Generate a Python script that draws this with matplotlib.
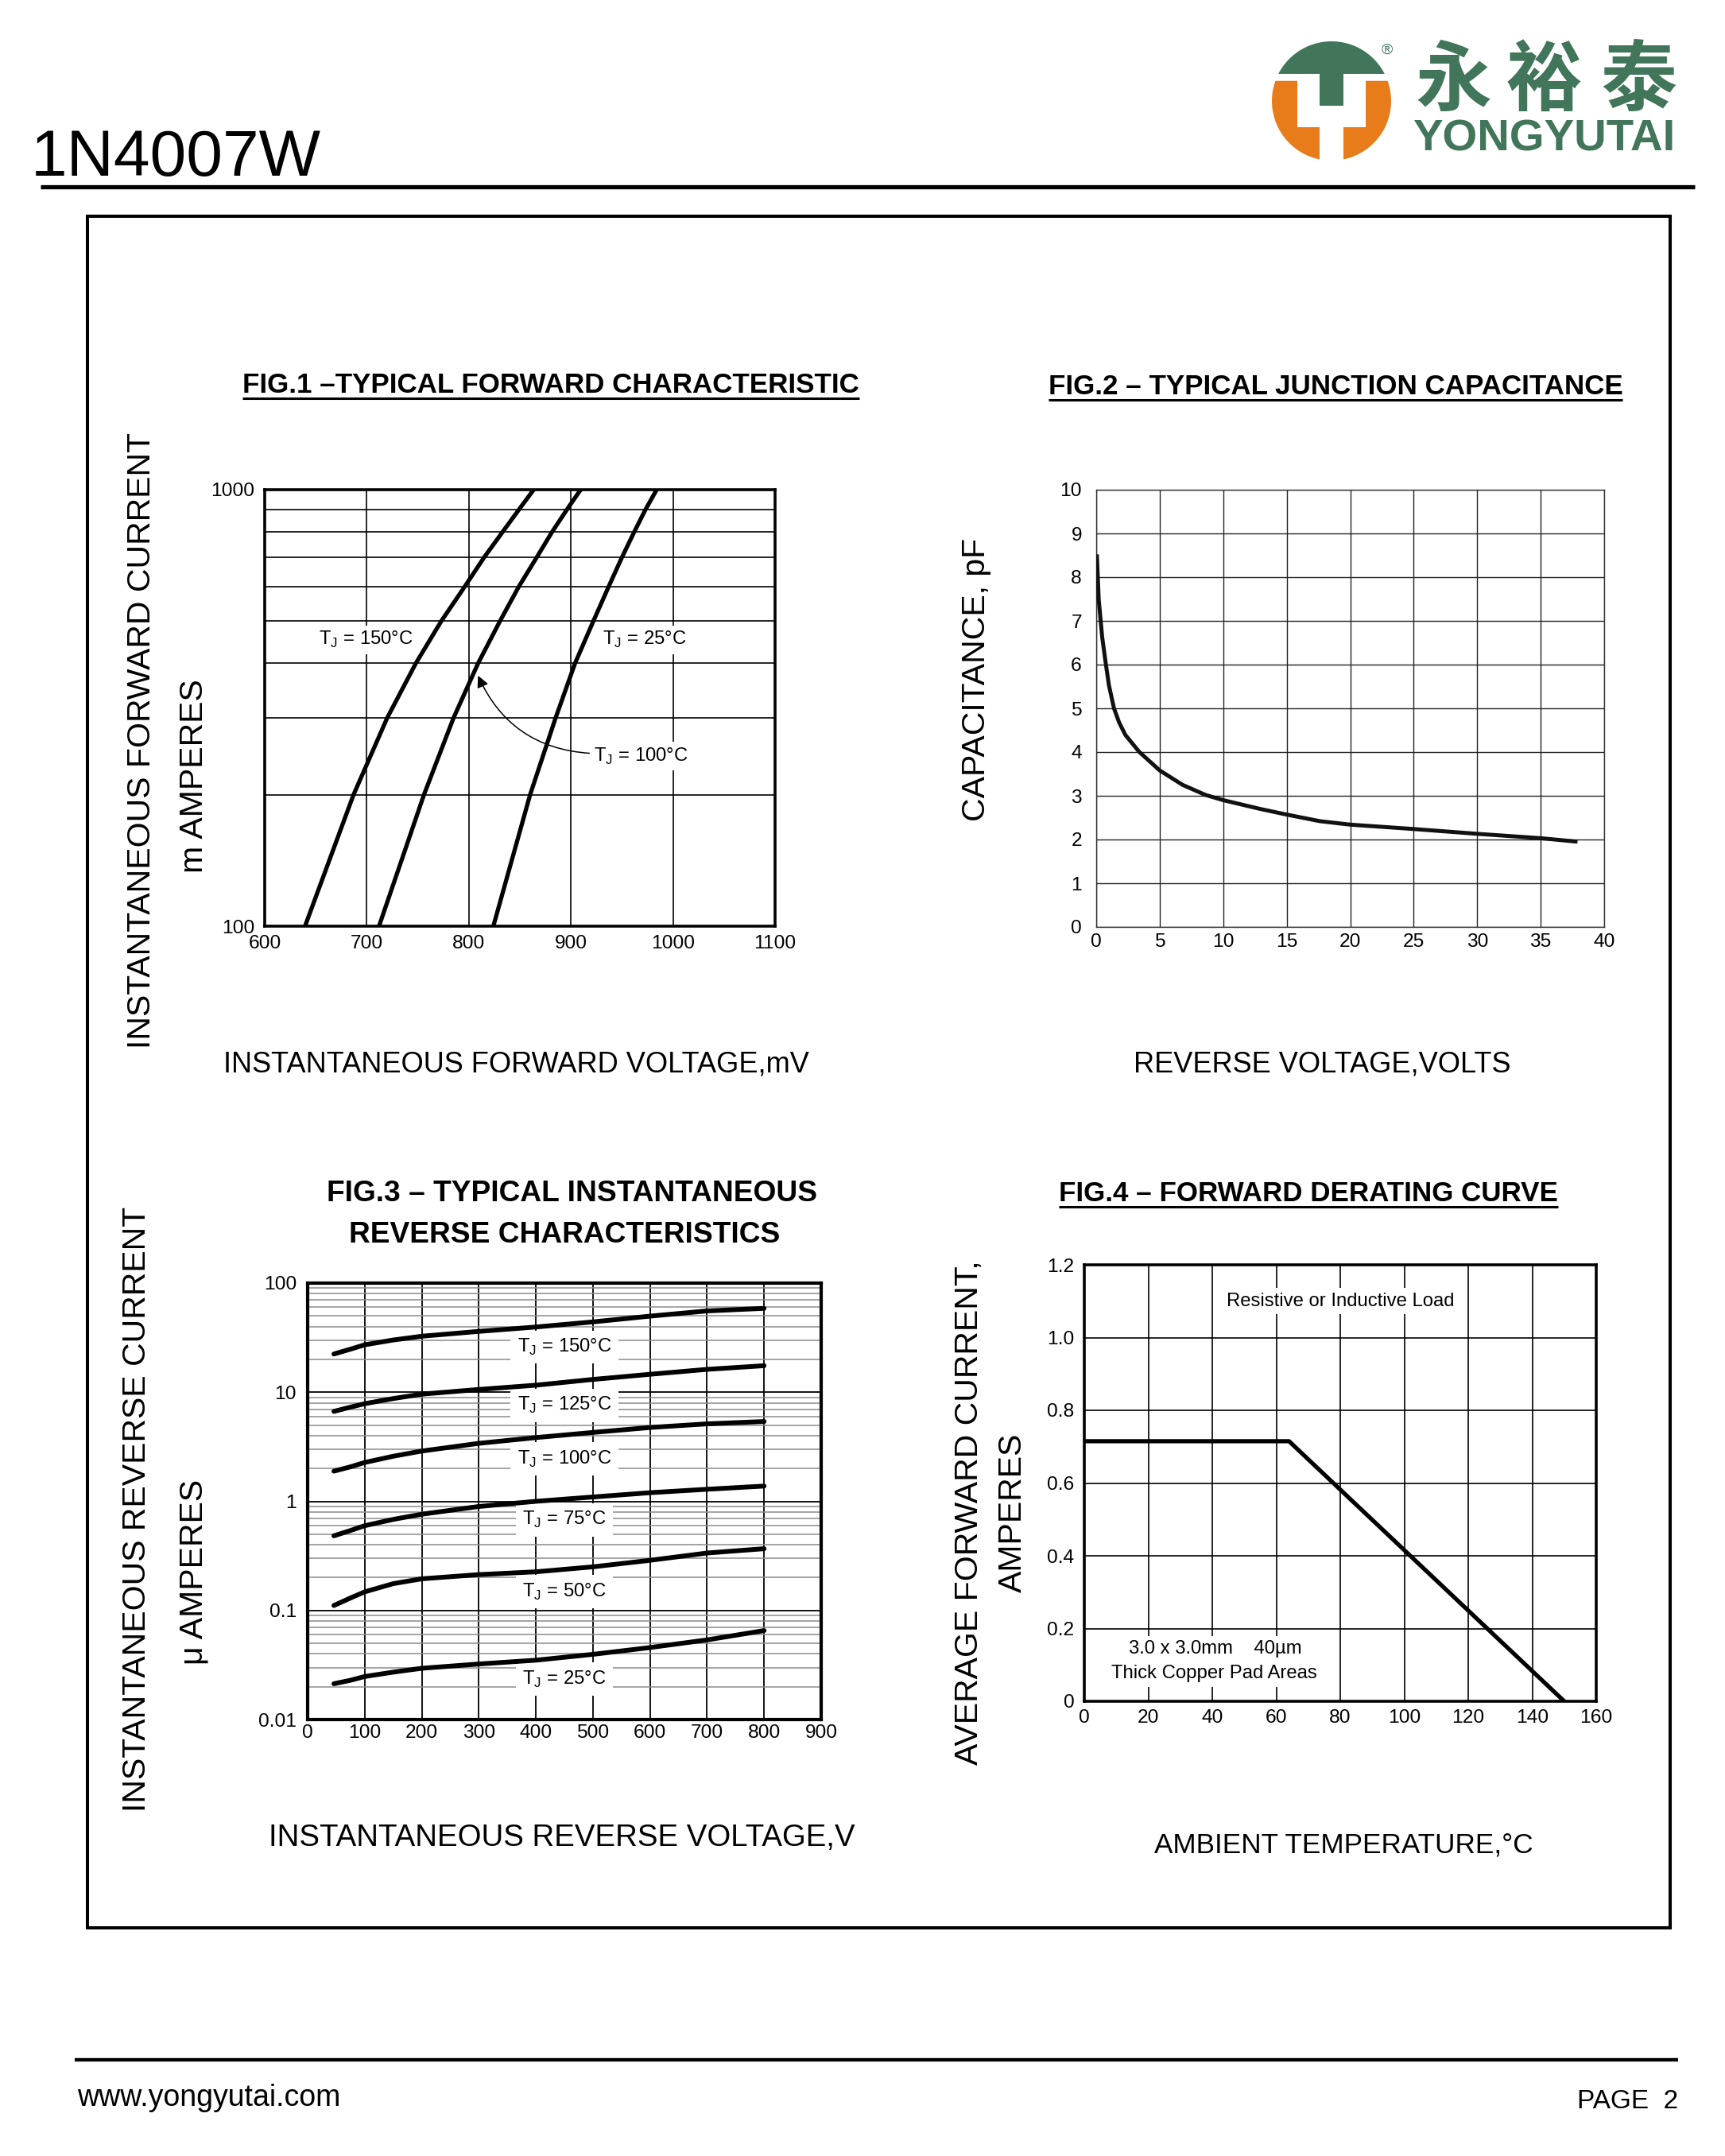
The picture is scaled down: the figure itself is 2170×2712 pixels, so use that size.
# -*- coding: utf-8 -*-
"""
1N4007W datasheet, page 2: typical characteristic curves (Fig.1 - Fig.4)
"""
import numpy as np
import matplotlib
matplotlib.use('Agg')
import matplotlib.pyplot as plt
from matplotlib import font_manager
from matplotlib.patches import Polygon, Rectangle
from matplotlib.ticker import FixedLocator, NullFormatter

# ---- values ----
# Fig.1  forward current (mA) against forward voltage (mV)
fwd_current = [100, 200, 300, 400, 500, 600, 700, 800, 900, 1000]
fwd_v_150 = [639.5, 687, 720, 748, 773, 796, 815, 833, 849, 863.5]
fwd_v_100 = [712, 756, 785, 809, 830.5, 849, 866.5, 881.5, 896, 909.5]
fwd_v_25 = [824, 860, 885, 904, 922, 937, 950, 962, 973, 984]
fig1_xticks = [600, 700, 800, 900, 1000, 1100]
fig1_yticks = [100, 1000]
fig1_labels = ['150', '25', '100']
fig1_label_x = [699, 972, 969]
fig1_label_y = [453, 453, 245]
fig1_arrow_from = (918, 249)
fig1_arrow_to = (809, 375)

# Fig.2  junction capacitance (pF) against reverse voltage (V)
cap_v = [0.05, 0.2, 0.47, 0.74, 1.0, 1.4, 1.8, 2.3, 3.4, 5.0, 6.8, 8.6, 10,
         12.9, 15, 17.6, 20, 25, 30, 35, 37.9]
cap_pf = [8.52, 7.48, 6.63, 6.05, 5.53, 5.0, 4.68, 4.39, 4.0, 3.58, 3.25,
          3.02, 2.9, 2.7, 2.57, 2.42, 2.34, 2.24, 2.13, 2.03, 1.95]
fig2_xticks = [0, 5, 10, 15, 20, 25, 30, 35, 40]
fig2_yticks = [0, 1, 2, 3, 4, 5, 6, 7, 8, 9, 10]

# Fig.3  reverse current (uA) against reverse voltage (V)
rev_v = [46, 75, 100, 150, 200, 300, 400, 500, 600, 700, 800]
rev_i_150 = [22.4, 24.8, 27.2, 30.1, 32.6, 36.1, 39.6, 44.1, 49.8, 55.6, 58.7]
rev_i_125 = [6.67, 7.3, 7.85, 8.75, 9.6, 10.6, 11.6, 13.1, 14.6, 16.2, 17.5]
rev_i_100 = [1.89, 2.07, 2.27, 2.59, 2.89, 3.4, 3.84, 4.28, 4.75, 5.13, 5.39]
rev_i_75 = [0.483, 0.54, 0.598, 0.683, 0.762, 0.897, 1.0, 1.096, 1.2, 1.29, 1.38]
rev_i_50 = [0.111, 0.13, 0.148, 0.176, 0.195, 0.213, 0.226, 0.251, 0.288, 0.336, 0.368]
rev_i_25 = [0.0213, 0.0229, 0.0248, 0.0272, 0.0295, 0.0323, 0.035, 0.0396,
            0.0457, 0.0537, 0.0654]
fig3_temps = ['150', '125', '100', '75', '50', '25']
fig3_label_x = 450
fig3_label_y = [25.9, 7.6, 2.44, 0.676, 0.148, 0.0234]
fig3_xticks = [0, 100, 200, 300, 400, 500, 600, 700, 800, 900]
fig3_yticks = [0.01, 0.1, 1, 10, 100]
fig3_yticklabels = ['0.01', '0.1', '1', '10', '100']

# Fig.4  forward derating
derate_temp = [0, 64, 150]
derate_amps = [0.715, 0.715, 0.0]
fig4_xticks = [0, 20, 40, 60, 80, 100, 120, 140, 160]
fig4_yticks = [0, 0.2, 0.4, 0.6, 0.8, 1.0, 1.2]
fig4_yticklabels = ['0', '0.2', '0.4', '0.6', '0.8', '1.0', '1.2']

# ---- page setup (pixel coordinates of the 2170x2712 page) ----
W, H = 2170, 2712
GREEN = '#41765a'
ORANGE = '#e87c1a'

installed = {f.name for f in font_manager.fontManager.ttflist}
REG = 'Liberation Sans'
if 'Liberation Sans Narrow' in installed:
    NAR, SQ = 'Liberation Sans Narrow', 1.0
else:
    NAR, SQ = 'Liberation Sans', 0.84   # no narrow cut: shrink instead

plt.rcParams['font.family'] = REG
TICK = 21 * SQ
LAB = 20.5 * SQ


def rect(x0, y0, x1, y1):
    return [x0 / W, 1 - y1 / H, (x1 - x0) / W, (y1 - y0) / H]


def tj(t):
    return r'T$_\mathregular{J}$ = ' + t + '°C'


fig = plt.figure(figsize=(W / 100, H / 100), dpi=100)
bg = fig.add_axes([0, 0, 1, 1])
bg.set_xlim(0, W)
bg.set_ylim(H, 0)
bg.axis('off')

# header, frame and footer
bg.text(39, 221, '1N4007W', fontsize=59, va='baseline', ha='left')
bg.plot([51, 2132], [234.5, 234.5], color='k', lw=3.8, solid_capstyle='butt')
bg.add_patch(Rectangle((110, 272), 1991, 2153, fill=False, ec='k', lw=2.9))
bg.plot([94, 2111], [2591, 2591], color='k', lw=3.2, solid_capstyle='butt')
bg.text(97, 2649, 'www.yongyutai.com', fontsize=27, va='baseline', ha='left')
bg.text(2111, 2652, 'PAGE  2', fontsize=24, va='baseline', ha='right')

# logo emblem
cx, cy, r = 1675, 127, 75
t = np.radians(np.linspace(160.3, 379.7, 120))
bg.add_patch(Polygon(np.c_[cx + r * np.cos(t), cy - r * np.sin(t)],
                     closed=True, fc=ORANGE, ec='none'))
for x0, y0, x1, y1 in [(1632, 100, 1660, 160), (1690, 100, 1718, 160),
                       (1660, 100, 1690, 210)]:
    bg.add_patch(Rectangle((x0, y0), x1 - x0, y1 - y0, fc='white', ec='none'))
t = np.radians(np.linspace(27, 153, 80))
bg.add_patch(Polygon(np.c_[cx + r * np.cos(t), cy - r * np.sin(t)],
                     closed=True, fc=GREEN, ec='none'))
bg.add_patch(Rectangle((1660, 92), 30, 41, fc=GREEN, ec='none'))
bg.text(1745, 63, '®', fontsize=14, color=GREEN, ha='center', va='center')
for ch, x in zip('永裕泰', [1828, 1943, 2062]):
    bg.text(x, 103, ch, fontsize=69, color=GREEN, ha='center', va='center',
            family=['Noto Sans CJK SC', 'DejaVu Sans'], fontweight='bold')
bg.text(1777, 190, 'YONGYUTAI', fontsize=40.5, color=GREEN, ha='left',
        va='baseline', fontweight='bold')

# titles (underlined ones get their rule after a first draw)
TSIZE = 30 * SQ
titles = []
titles.append(bg.text(693, 494, 'FIG.1 –TYPICAL FORWARD CHARACTERISTIC',
                      fontsize=TSIZE, family=NAR, fontweight='bold',
                      ha='center', va='baseline'))
titles.append(bg.text(1680, 496, 'FIG.2 – TYPICAL JUNCTION CAPACITANCE',
                      fontsize=TSIZE, family=NAR, fontweight='bold',
                      ha='center', va='baseline'))
titles.append(bg.text(1646, 1511, 'FIG.4 – FORWARD DERATING CURVE',
                      fontsize=TSIZE, family=NAR, fontweight='bold',
                      ha='center', va='baseline'))
bg.text(720, 1511, 'FIG.3 – TYPICAL INSTANTANEOUS', fontsize=TSIZE * 1.06,
        family=NAR, fontweight='bold', ha='center', va='baseline')
bg.text(710, 1563, 'REVERSE CHARACTERISTICS', fontsize=TSIZE * 1.06,
        family=NAR, fontweight='bold', ha='center', va='baseline')

# axis titles
YL = 29.5
for x, y, s in [(178, 931, 'INSTANTANEOUS FORWARD CURRENT'),
                (244, 976, 'm AMPERES'),
                (1228, 855, 'CAPACITANCE, pF'),
                (172, 1898, 'INSTANTANEOUS REVERSE CURRENT'),
                (243, 1977, 'μ AMPERES'),
                (1219, 1903, 'AVERAGE FORWARD CURRENT,'),
                (1274, 1903, 'AMPERES')]:
    bg.text(x, y, s, fontsize=YL, rotation=90, ha='center', va='center')
XL = 31 * SQ
for x, y, s, k in [(649, 1339, 'INSTANTANEOUS FORWARD VOLTAGE,mV', 1.0),
                   (1663, 1339, 'REVERSE VOLTAGE,VOLTS', 1.0),
                   (707, 2312, 'INSTANTANEOUS REVERSE VOLTAGE,V', 1.06),
                   (1690, 2321, 'AMBIENT TEMPERATURE,°C', 0.97)]:
    bg.text(x, y, s, fontsize=XL * k, family=NAR, ha='center', va='center')

white = dict(fc='white', ec='none', pad=4)

# ---- Fig.1 ----
ax1 = fig.add_axes(rect(333, 616, 975, 1165))
ax1.set_yscale('log')
ax1.set_xlim(600, 1100)
ax1.set_ylim(100, 1000)
ax1.set_xticks(fig1_xticks, [str(v) for v in fig1_xticks], family=NAR, fontsize=TICK)
ax1.set_yticks(fig1_yticks, [str(v) for v in fig1_yticks], family=NAR, fontsize=TICK)
ax1.yaxis.set_minor_locator(FixedLocator(fwd_current[1:-1]))
ax1.yaxis.set_minor_formatter(NullFormatter())
ax1.tick_params(which='both', length=0)
ax1.tick_params(axis='x', pad=8)
ax1.tick_params(axis='y', pad=9)
ax1.grid(True, which='major', color='k', lw=1.2)
ax1.grid(True, which='minor', axis='y', color='k', lw=1.2)
for s in ax1.spines.values():
    s.set_linewidth(2.6)
for v in (fwd_v_150, fwd_v_100, fwd_v_25):
    ax1.plot(v, fwd_current, color='k', lw=3.8, zorder=4)
for lab, x, y in zip(fig1_labels, fig1_label_x, fig1_label_y):
    ax1.text(x, y, tj(lab), family=NAR, fontsize=LAB, ha='center', va='center',
             bbox=white, zorder=3)
ax1.annotate('', xy=fig1_arrow_to, xytext=fig1_arrow_from, zorder=5,
             arrowprops=dict(arrowstyle='-|>', color='k', lw=1.1,
                             mutation_scale=22, shrinkA=0, shrinkB=0,
                             connectionstyle='arc3,rad=-0.3'))

# ---- Fig.2 ----
ax2 = fig.add_axes(rect(1379, 616, 2018, 1166))
ax2.set_xlim(0, 40)
ax2.set_ylim(0, 10)
ax2.set_xticks(fig2_xticks, [str(v) for v in fig2_xticks], family=NAR, fontsize=TICK)
ax2.set_yticks(fig2_yticks, [str(v) for v in fig2_yticks], family=NAR, fontsize=TICK)
ax2.tick_params(length=0)
ax2.tick_params(axis='x', pad=6)
ax2.tick_params(axis='y', pad=13)
ax2.grid(True, color='#222222', lw=1.0)
for s in ax2.spines.values():
    s.set_linewidth(1.0)
    s.set_color('#333333')
ax2.plot(cap_v, cap_pf, color='#111111', lw=3.6, zorder=4, solid_capstyle='butt')

# ---- Fig.3 ----
ax3 = fig.add_axes(rect(387, 1614, 1033, 2163))
ax3.set_yscale('log')
ax3.set_xlim(0, 900)
ax3.set_ylim(0.01, 100)
ax3.set_xticks(fig3_xticks, [str(v) for v in fig3_xticks], family=NAR, fontsize=TICK)
ax3.set_yticks(fig3_yticks, fig3_yticklabels, family=NAR, fontsize=TICK)
minor = [k * d for d in fig3_yticks[:-1] for k in range(2, 10)]
ax3.yaxis.set_minor_locator(FixedLocator(minor))
ax3.yaxis.set_minor_formatter(NullFormatter())
ax3.tick_params(which='both', length=0)
ax3.tick_params(axis='x', pad=4)
ax3.tick_params(axis='y', pad=10)
ax3.grid(True, which='major', color='k', lw=1.3)
ax3.grid(True, which='minor', axis='y', color='#8c8c8c', lw=1.1)
for s in ax3.spines.values():
    s.set_linewidth(3.0)
for cur in (rev_i_150, rev_i_125, rev_i_100, rev_i_75, rev_i_50, rev_i_25):
    ax3.plot(rev_v, cur, color='k', lw=4.3, solid_capstyle='round',
             solid_joinstyle='round', zorder=4)
for lab, y in zip(fig3_temps, fig3_label_y):
    ax3.text(fig3_label_x, y, tj(lab), family=NAR, fontsize=LAB, ha='center',
             va='center', zorder=3, bbox=dict(fc='white', ec='none', pad=6))

# ---- Fig.4 ----
ax4 = fig.add_axes(rect(1364, 1591, 2008, 2140))
ax4.set_xlim(0, 160)
ax4.set_ylim(0, 1.2)
ax4.set_xticks(fig4_xticks, [str(v) for v in fig4_xticks], family=NAR, fontsize=TICK)
ax4.set_yticks(fig4_yticks, fig4_yticklabels, family=NAR, fontsize=TICK)
ax4.tick_params(length=0)
ax4.tick_params(axis='x', pad=7)
ax4.tick_params(axis='y', pad=9)
ax4.grid(True, color='k', lw=1.2)
for s in ax4.spines.values():
    s.set_linewidth(2.6)
ax4.plot(derate_temp, derate_amps, color='k', lw=3.8, zorder=4)
ax4.text(80, 1.10, 'Resistive or Inductive Load', family=NAR, fontsize=LAB,
         ha='center', va='center', bbox=white, zorder=3)
ax4.text(41, 0.144, '3.0 x 3.0mm    40µm', family=NAR, fontsize=LAB,
         ha='center', va='center', bbox=white, zorder=3)
ax4.text(40.6, 0.076, 'Thick Copper Pad Areas', family=NAR, fontsize=LAB,
         ha='center', va='center', bbox=white, zorder=3)

# underline the titles at their drawn width
fig.canvas.draw()
rend = fig.canvas.get_renderer()
inv = bg.transData.inverted()
for txt in titles:
    bb = txt.get_window_extent(rend)
    (xa, _), (xb, _) = inv.transform([[bb.x0, bb.y0], [bb.x1, bb.y0]])
    yb = txt.get_position()[1] + 7
    bg.plot([xa, xb], [yb, yb], color='k', lw=2.2, solid_capstyle='butt')

fig.savefig('out.png', dpi=100)
